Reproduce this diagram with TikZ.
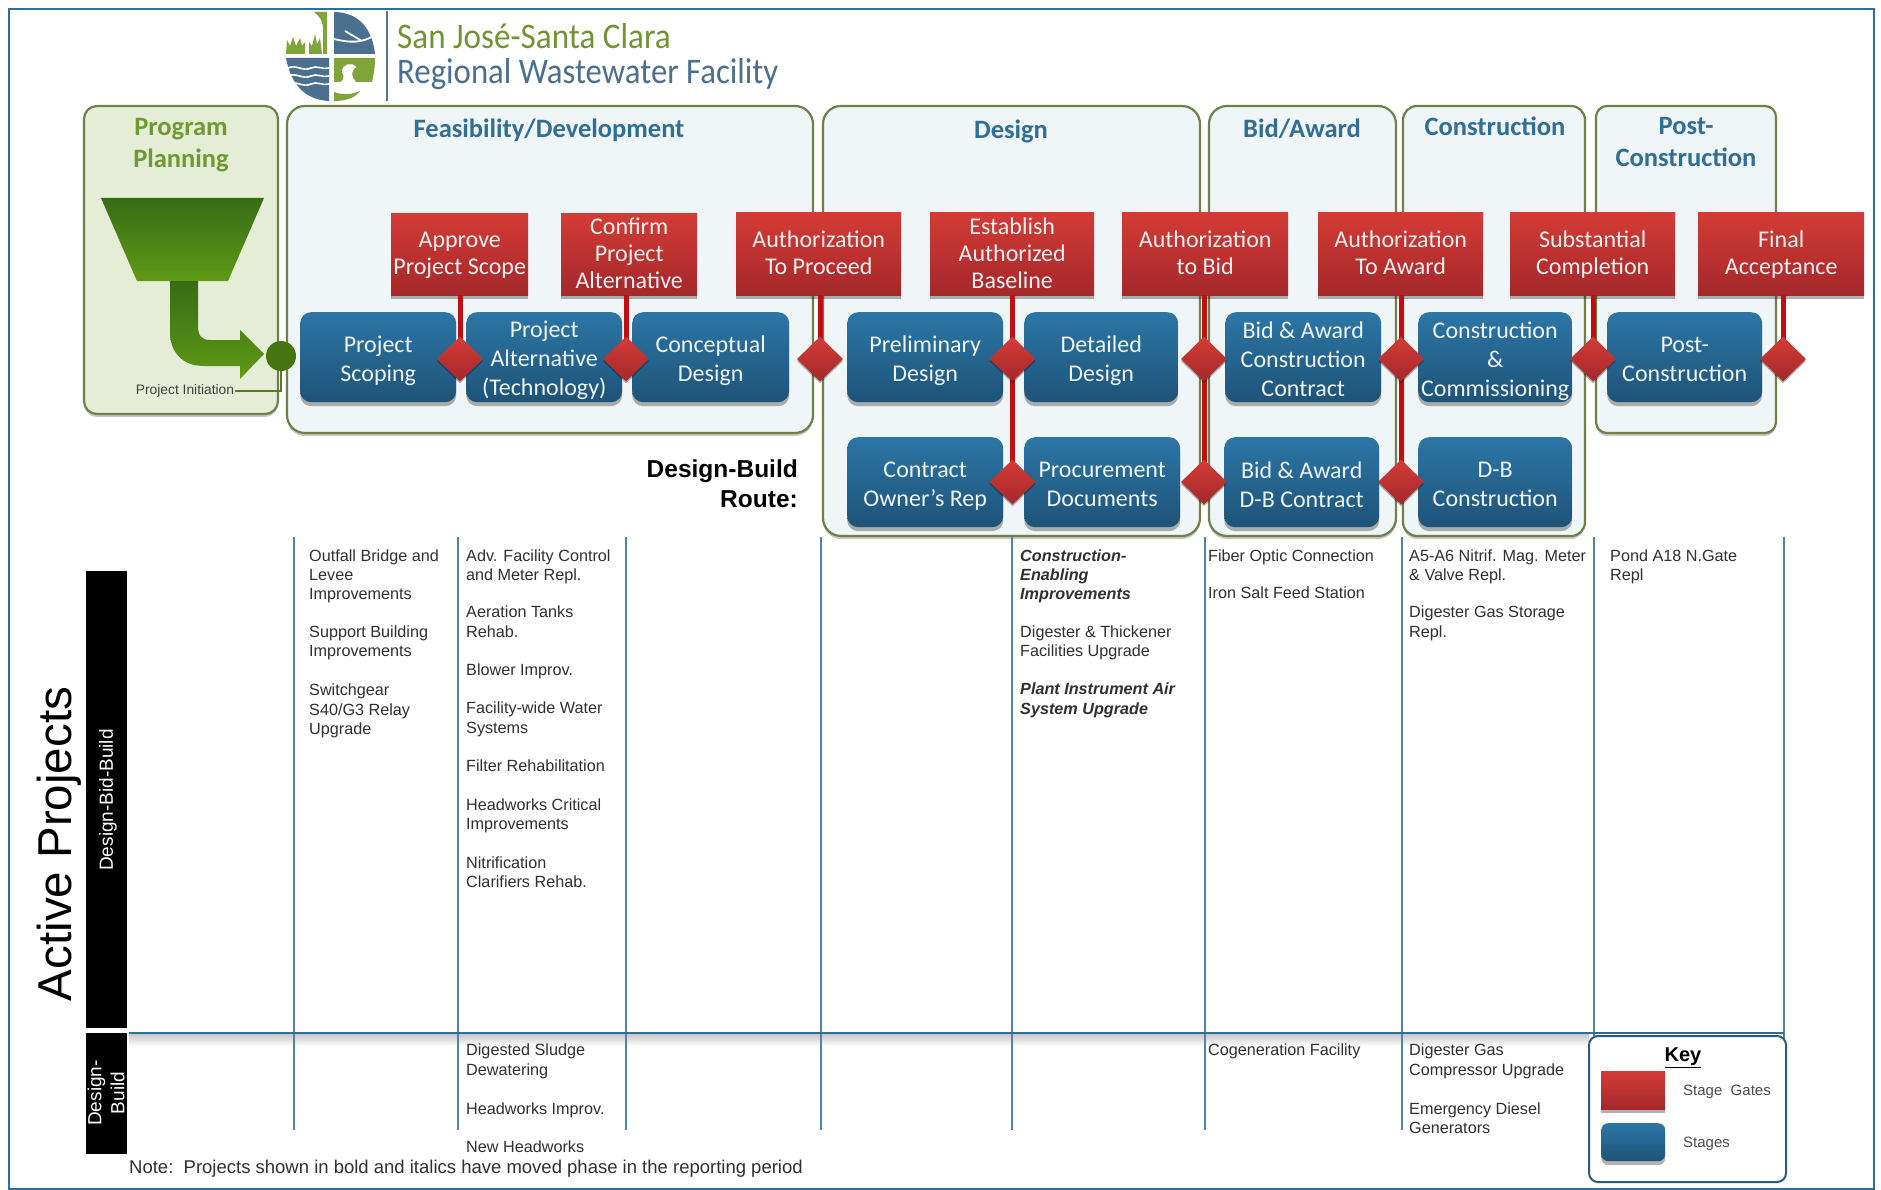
\documentclass[tikz,border=0pt]{standalone}
\usepackage{fontspec}
\setmainfont{Liberation Sans}
\newfontfamily\carl{Carlito}
\usetikzlibrary{shapes.geometric,shadows,calc}
\definecolor{framec}{HTML}{2F6E96}
\definecolor{panelline}{HTML}{6F8048}
\definecolor{panelfill}{HTML}{F0F5F8}
\definecolor{progfill}{HTML}{E6EDD7}
\definecolor{headblue}{HTML}{2F6F96}
\definecolor{headgreen}{HTML}{6E9A32}
\definecolor{bluetop}{HTML}{2C76A6}
\definecolor{bluebot}{HTML}{1E5378}
\definecolor{redtop}{HTML}{D43B36}
\definecolor{redbot}{HTML}{A4282A}
\definecolor{stemred}{HTML}{C00F14}
\definecolor{arrowtop}{HTML}{376B16}
\definecolor{arrowbot}{HTML}{5F9A16}
\definecolor{logogreen}{HTML}{7FA53A}
\definecolor{logoblue}{HTML}{4A6F8F}
\definecolor{colline}{HTML}{4F83A8}
\definecolor{projtext}{HTML}{303030}
\tikzset{
 x=1pt,y=-1pt,
 softshadow/.style={drop shadow={shadow xshift=0pt,shadow yshift=-4pt,opacity=.3,fill=black}},
 panel/.style={draw=panelline,line width=2.2pt,fill=panelfill,rounded corners=18pt,
   drop shadow={shadow xshift=0pt,shadow yshift=-3pt,opacity=.22,fill=black}},
 stagebox/.style={anchor=north west,inner sep=0pt,rounded corners=11pt,top color=bluetop,bottom color=bluebot,softshadow},
 stagelabel/.style={inner sep=0pt,text=white!92!bluetop,align=center,font=\carl\fontsize{24}{29}\selectfont,
   execute at begin node={\rule{0pt}{25pt}},execute at end node={\rule[-3pt]{0pt}{0pt}}},
 gatebox/.style={anchor=north west,inner sep=0pt,top color=redtop,bottom color=redbot,softshadow},
 gatelabel/.style={inner sep=0pt,text=white!92!redtop,align=center,font=\carl\fontsize{24}{27}\selectfont,
   execute at begin node={\rule{0pt}{24pt}},execute at end node={\rule[-6pt]{0pt}{0pt}}},
 gatediamond/.style={diamond,inner sep=0pt,minimum width=46pt,minimum height=45pt,top color=redtop,bottom color=redbot,
   drop shadow={shadow xshift=0pt,shadow yshift=-2pt,opacity=.3,fill=black}},
 stem/.style={draw=stemred,line width=5pt},
 headtext/.style={text=headblue,align=center,font=\carl\bfseries\fontsize{26.5}{32}\selectfont},
 projlist/.style={anchor=north west,inner sep=0pt,align=left,text=projtext,font=\fontsize{16.2}{19.2}\selectfont},
 colrule/.style={draw=colline,line width=1.5pt},
 blackbar/.style={anchor=north west,fill=black,inner sep=0pt},
}
% name, x, y, width, height, text
\newcommand\mkstage[6]{\node[stagebox,minimum width=#4pt,minimum height=#5pt] (#1) at (#2,#3) {};
  \node[stagelabel] (#1t) at ($(#1.center)+(0,3.6)$) {#6};}
\newcommand\mkgate[6]{\node[gatebox,minimum width=#4pt,minimum height=#5pt] (#1) at (#2,#3) {};
  \node[gatelabel] (#1t) at ($(#1.center)+(0,2.4)$) {#6};}
\begin{document}
\begin{tikzpicture}
\useasboundingbox (0,0) rectangle (1881,1190);
\fill[white] (0,0) rectangle (1881,1190);
\draw[framec,line width=2.5pt] (9,9) rectangle (1874,1189);

% logo
\fill[logogreen] (286,54) -- (287,40) -- (290,46) -- (293,37) -- (296,46) -- (300,38) -- (302,46) -- (305,42) -- (305,54) -- cycle;
\fill[logogreen] (309,54) -- (309,42) -- (312,46) -- (315,34) -- (317,44) -- (320,38) -- (322,54) -- cycle;
\fill[logogreen] (314,12) -- (327,12) -- (327,54) -- (323,54) -- (323,28) .. controls (323,22) and (320,16) .. (314,12) -- cycle;
\fill[logoblue] (334,12) .. controls (355,12) and (372,25) .. (375,54) -- (334,54) -- cycle;
\draw[white,line width=1.8pt] (345,31) -- (362,41);
\draw[white,line width=1.8pt] (334,39) .. controls (350,43) and (362,43) .. (373,36);
\fill[logoblue] (286,58) -- (329,58) -- (329,101) .. controls (310,100) and (292,90) .. (286,58) -- cycle;
\foreach \yy in {68,76,84} \draw[white,line width=1.6pt] (288,\yy) .. controls (296,\yy-4) and (303,\yy+4) .. (311,\yy) .. controls (317,\yy-3) and (323,\yy+2) .. (329,\yy);
\fill[logogreen] (334,58) -- (375,58) .. controls (375,66) and (374,74) .. (372,82) -- (334,82) -- cycle;
\fill[logogreen] (334,92) .. controls (345,96) and (352,94) .. (360,91) .. controls (354,99) and (344,101) .. (334,101) -- cycle;
\fill[white] (342,72) .. controls (342,63) and (353,62) .. (356,67) .. controls (353,70) and (351,72) .. (353,78) .. controls (358,83) and (358,90) .. (346,90) -- (334,90) -- (334,84) .. controls (342,84) and (346,78) .. (342,72) -- cycle;
\draw[logoblue!70!gray,line width=1.5pt] (387,11) -- (387,101);
\node[anchor=base west,inner sep=0pt,text=logogreen!90!black,font=\carl\fontsize{36}{36}\selectfont] (logoa) at (397,49) {\scalebox{.92}[1]{San José-Santa Clara}};
\node[anchor=base west,inner sep=0pt,text=logoblue,font=\carl\fontsize{36}{36}\selectfont] (logob) at (397,84) {\scalebox{.911}[1]{Regional Wastewater Facility}};

% panels
\draw[panel,fill=progfill,rounded corners=13pt] (84,106) rectangle (278,414);
\draw[panel] (287,106) rectangle (813,433);
\draw[panel] (823,106) rectangle (1200,536);
\draw[panel] (1209,106) rectangle (1396,536);
\draw[panel,rounded corners=14pt] (1403,106) rectangle (1585,536);
\draw[panel,rounded corners=11pt] (1596,106) rectangle (1776,433);

\node[headtext,text=headgreen] (hprog) at (181,145) {Program\\Planning};
\node[headtext] (hfeas) at (549,130) {Feasibility/Development};
\node[headtext] (hdes) at (1011,131) {Design};
\node[headtext] (hbid) at (1302,129) {Bid/Award};
\node[headtext] (hcon) at (1495,126) {Construction};
\node[headtext] (hpost) at (1686,142) {Post-\\Construction};

% funnel and arrow
\shade[top color=arrowtop,bottom color=arrowbot] (101,198) -- (264,198) -- (228,281) -- (137,281) -- cycle;
\shade[top color=arrowtop,bottom color=arrowbot] (170,281) -- (170,332) .. controls (170,352) and (182,366) .. (204,366) -- (240,366) -- (240,379) -- (264,354) -- (240,330) -- (240,340) -- (210,340) .. controls (202,340) and (198,336) .. (198,326) -- (198,281) -- cycle;
\node[circle,fill=arrowbot!75!black,inner sep=0pt,minimum size=30pt] (pinit) at (281,356) {};
\node[inner sep=1pt,text=black!75,font=\fontsize{13.8}{15}\selectfont] (ptext) at (185,391) {Project Initiation};
\draw[draw=headgreen!80!black,line width=2pt] (ptext.east) -| (pinit.south);

% gates
\mkgate{g1}{391}{213}{137}{82}{Approve\\Project Scope}
\mkgate{g2}{561}{213}{136}{82}{Confirm\\Project\\Alternative}
\mkgate{g3}{736}{212}{165}{83}{Authorization\\To Proceed}
\mkgate{g4}{930}{212}{164}{83}{Establish\\Authorized\\Baseline}
\mkgate{g5}{1122}{212}{166}{83}{Authorization\\to Bid}
\mkgate{g6}{1318}{212}{165}{83}{Authorization\\To Award}
\mkgate{g7}{1510}{212}{165}{83}{Substantial\\Completion}
\mkgate{g8}{1698}{212}{166}{83}{Final\\Acceptance}

% stages
\mkstage{s1}{300}{312}{156}{90}{Project\\Scoping}
\mkstage{s2}{466}{312}{156}{90}{Project\\Alternative\\(Technology)}
\mkstage{s3}{632}{312}{157}{90}{Conceptual\\Design}
\mkstage{s4}{847}{312}{156}{90}{Preliminary\\Design}
\mkstage{s5}{1024}{312}{154}{90}{Detailed\\Design}
\mkstage{s6}{1225}{312}{156}{90}{Bid \& Award\\Construction\\Contract}
\mkstage{s7}{1418}{312}{154}{90}{Construction\\\&\\Commissioning}
\mkstage{s8}{1607}{312}{155}{90}{Post-\\Construction}
\mkstage{r1}{847}{437}{156}{90}{Contract\\Owner’s Rep}
\mkstage{r2}{1024}{437}{156}{90}{Procurement\\Documents}
\mkstage{r3}{1224}{437}{155}{90}{Bid \& Award\\D-B Contract}
\mkstage{r4}{1418}{437}{154}{90}{D-B\\Construction}

% stems and gate diamonds
\coordinate (d1p) at (460,359);
\coordinate (d2p) at (626,359);
\coordinate (d3p) at (820,359);
\coordinate (d4p) at (1012.5,359);
\coordinate (d5p) at (1204,359);
\coordinate (d6p) at (1401,359);
\coordinate (d7p) at (1593,359);
\coordinate (d8p) at (1783,359);
\coordinate (e4p) at (1012.5,482);
\coordinate (e5p) at (1204,482);
\coordinate (e6p) at (1401,482);
\foreach \dd/\gg in {d1p/g1,d2p/g2,d3p/g3,d4p/g4,d5p/g5,d6p/g6,d7p/g7,d8p/g8} {
  \draw[stem] (\gg.south -| \dd) -- (\dd);
}
\foreach \dd/\ee in {d4p/e4p,d5p/e5p,d6p/e6p} {
  \draw[stem] (\dd) -- (\ee);
}
\foreach \dd in {d1,d2,d3,d4,d5,d6,d7,d8,e4,e5,e6} {
  \node[gatediamond] (\dd) at (\dd p) {};
}

\node[anchor=north east,inner sep=0pt,align=right,font=\bfseries\fontsize{24.5}{30}\selectfont] (route) at (798,460) {Design-Build\\Route:};

% grid
\shade[top color=black!22,bottom color=white] (129,1034) rectangle (1589,1046);
\foreach \cx in {294,458,626,821,1012,1205,1402,1594,1784} \draw[colrule] (\cx,537) -- (\cx,1130);
\draw[draw=framec,line width=2pt] (129,1033) -- (1784,1033);

\node[blackbar,minimum width=41pt,minimum height=457pt] (bar1) at (86,571) {};
\node[rotate=90,text=white,font=\fontsize{19}{22}\selectfont] (bar1t) at (108,800) {Design-Bid-Build};
\node[blackbar,minimum width=41pt,minimum height=121pt] (bar2) at (86,1033) {};
\node[rotate=90,text=white,align=center,inner sep=0pt,font=\fontsize{19}{23}\selectfont] (bar2t) at (106,1093) {Design-\\Build};
\node[rotate=90,text=black,font=\fontsize{47.5}{50}\selectfont] (active) at (59,844) {Active Projects};

% project lists
\node[projlist] (p1) at (309,549.5) {Outfall Bridge and\\Levee\\Improvements\\[18pt]Support Building\\Improvements\\[20.4pt]Switchgear\\S40/G3 Relay\\Upgrade};
\node[projlist] (p2) at (466,549.5) {Adv. Facility Control\\and Meter Repl.\\[18pt]Aeration Tanks\\Rehab.\\[19.5pt]Blower Improv.\\[19pt]Facility-wide Water\\Systems\\[19pt]Filter Rehabilitation\\[20pt]Headworks Critical\\Improvements\\[19.5pt]Nitrification\\Clarifiers Rehab.};
\node[projlist] (p3) at (1020,549.5) {\textbf{\textit{Construction-}}\\\textbf{\textit{Enabling}}\\\textbf{\textit{Improvements}}\\[18pt]Digester \& Thickener\\Facilities Upgrade\\[19.5pt]\textbf{\textit{Plant Instrument Air}}\\\textbf{\textit{System Upgrade}}};
\node[projlist] (p4) at (1208,549.5) {Fiber Optic Connection\\[18pt]Iron Salt Feed Station};
\node[projlist] (p5) at (1409,549.5) {A5-A6 Nitrif. Mag. Meter\\\& Valve Repl.\\[18pt]Digester Gas Storage\\Repl.};
\node[projlist] (p6) at (1610,549.5) {Pond A18 N.Gate\\Repl};
\node[projlist] (q1) at (466,1044) {Digested Sludge\\Dewatering\\[20pt]Headworks Improv.\\[19pt]New Headworks};
\node[projlist] (q2) at (1208,1044) {Cogeneration Facility};
\node[projlist] (q3) at (1409,1044) {Digester Gas\\Compressor Upgrade\\[20pt]Emergency Diesel\\Generators};
\node[anchor=west,inner sep=0pt,text=projtext,font=\fontsize{18.5}{21}\selectfont] (note) at (129,1169) {Note:\ \ Projects shown in bold and italics have moved phase in the reporting period};

% key
\draw[draw=framec!85!black,fill=white,line width=2pt,rounded corners=9pt] (1589,1036) rectangle (1786,1182);
\node[inner sep=0pt,font=\bfseries\fontsize{20}{24}\selectfont] (keyt) at (1683,1058) {\underline{Key}};
\node[gatebox,minimum width=64pt,minimum height=38pt] (k1) at (1601,1071) {};
\node[stagebox,minimum width=64pt,minimum height=38pt,rounded corners=7pt] (k2) at (1601,1123) {};
\node[anchor=west,inner sep=0pt,text=black!70,font=\fontsize{15}{18}\selectfont] (k1t) at (1683,1091.5) {Stage\ \ Gates};
\node[anchor=west,inner sep=0pt,text=black!70,font=\fontsize{15}{18}\selectfont] (k2t) at (1683,1144) {Stages};
\end{tikzpicture}
\end{document}
